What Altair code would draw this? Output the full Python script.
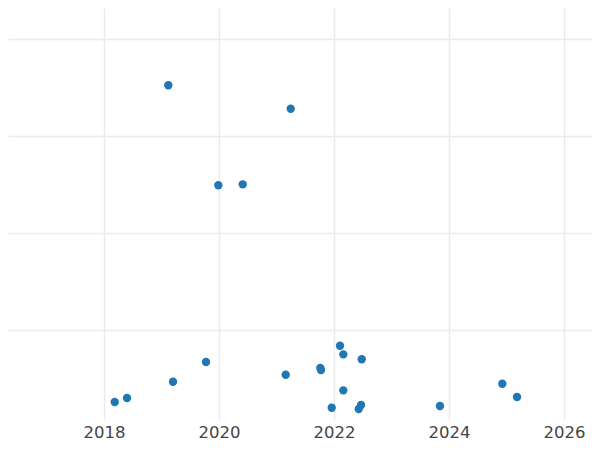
import altair as alt
import pandas as pd

years = [2019.118, 2021.247, 2019.988, 2020.412, 2018.186, 2018.400, 2019.200,
         2019.774, 2021.160, 2021.762, 2021.774, 2022.104, 2022.162, 2022.482,
         2022.162, 2021.960, 2022.430, 2022.470, 2023.843, 2024.927, 2025.183]
values = [35.23, 32.81, 24.92, 25.02, 2.58, 2.99, 4.67,
          6.70, 5.39, 6.08, 5.88, 8.38, 7.49, 6.98,
          3.78, 1.99, 1.86, 2.27, 2.16, 4.46, 3.09]
x_ticks = [2018, 2020, 2022, 2024, 2026]
y_ticks = [10, 20, 30, 40]

df = pd.DataFrame({"year": years, "value": values})

chart = alt.Chart(df).mark_circle(size=70, opacity=1, color="#1f77b4", clip=True).encode(
    x=alt.X("year:Q",
            scale=alt.Scale(domain=[2016.33, 2026.487], nice=False, zero=False),
            axis=alt.Axis(values=x_ticks, format="d", title=None, domain=False, ticks=False,
                          labelFontSize=16.5, labelColor="#444444", labelPadding=4,
                          labelFont="DejaVu Sans", gridColor="#ebebeb", gridWidth=1.5,
                          labelBound=False, labelFlush=False)),
    y=alt.Y("value:Q",
            scale=alt.Scale(domain=[0.722, 43.2], nice=False, zero=False),
            axis=alt.Axis(values=y_ticks, title=None, domain=False, ticks=False, labels=False,
                          gridColor="#ebebeb", gridWidth=1.5)),
).properties(
    width=584, height=412,
    autosize=alt.AutoSizeParams(type="none"),
    padding={"left": 0, "top": 0, "right": 0, "bottom": 22},
).configure_view(stroke=None)

chart.save("out.html", embed_options={"renderer": "svg", "actions": False})
